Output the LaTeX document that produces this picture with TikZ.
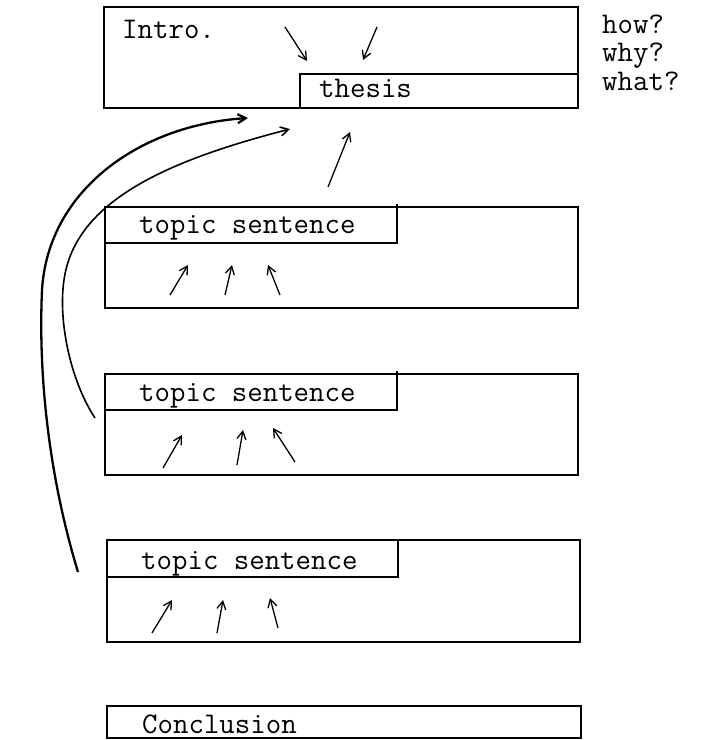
\documentclass[tikz,border=0pt]{standalone}
\usetikzlibrary{arrows.meta}

\tikzset{
  box/.style={line width=2.4pt},
  word/.style={font=\ttfamily\fontsize{30}{34}\selectfont, inner sep=0pt, anchor=base west},
  hand/.style={line width=1.3pt, -{Straight Barb[length=8pt,width=9pt]}},
}

\begin{document}
\begin{tikzpicture}[x=1pt,y=-1pt]
\useasboundingbox (0,0) rectangle (701,740);

% intro with thesis strip
\draw[box] (104,7) rectangle (578,108);
\draw[box] (300,108) -- (300,74) -- (578,74);
\node[word] (intro) at (122,38) {Intro.};
\node[word] (thesis) at (319,97) {thesis};
\node[word] (how) at (602,33) {how?};
\node[word] (why) at (602,61) {why?};
\node[word] (what) at (602,90) {what?};
\draw[hand] (285,27) -- (307,61);
\draw[hand] (377,27) -- (363,60);

% body paragraphs
\draw[box] (105,207) rectangle (578,308);
\draw[box] (105,243) -- (397,243) -- (397,204);
\node[word] (topic1) at (139,233) {topic sentence};
\draw[box] (105,374) rectangle (578,475);
\draw[box] (105,410) -- (397,410) -- (397,371);
\node[word] (topic2) at (139,401) {topic sentence};
\draw[box] (107,540) rectangle (580,642);
\draw[box] (107,577) -- (398,577) -- (398,540);
\node[word] (topic3) at (141,569) {topic sentence};

\foreach \a/\b/\c/\d in {170/295/188/265, 225/295/232/265, 280/295/268/265,
                         163/468/182/435, 237/465/243/430, 295/462/273/428,
                         152/633/172/600, 217/633/223/600, 278/628/270/598}
  \draw[hand] (\a,\b) -- (\c,\d);

% back to the thesis
\coordinate (up1) at (328,187);
\coordinate (up2) at (350,132);
\draw[hand] (up1) -- (up2);
\coordinate (farA) at (78,572);
\coordinate (headA) at (248,118);
\draw[hand, line width=2.3pt] (farA) .. controls (50,480) and (38,380) .. (42,290)
  .. controls (48,190) and (140,125) .. (headA);
\coordinate (farB) at (95,418);
\coordinate (headB) at (290,129);
\draw[hand, line width=1.6pt] (farB) .. controls (70,380) and (58,320) .. (64,280)
  .. controls (75,200) and (170,160) .. (headB);

% conclusion
\draw[box] (107,706) rectangle (581,738);
\node[word] (concl) at (142,733) {Conclusion};
\end{tikzpicture}
\end{document}
